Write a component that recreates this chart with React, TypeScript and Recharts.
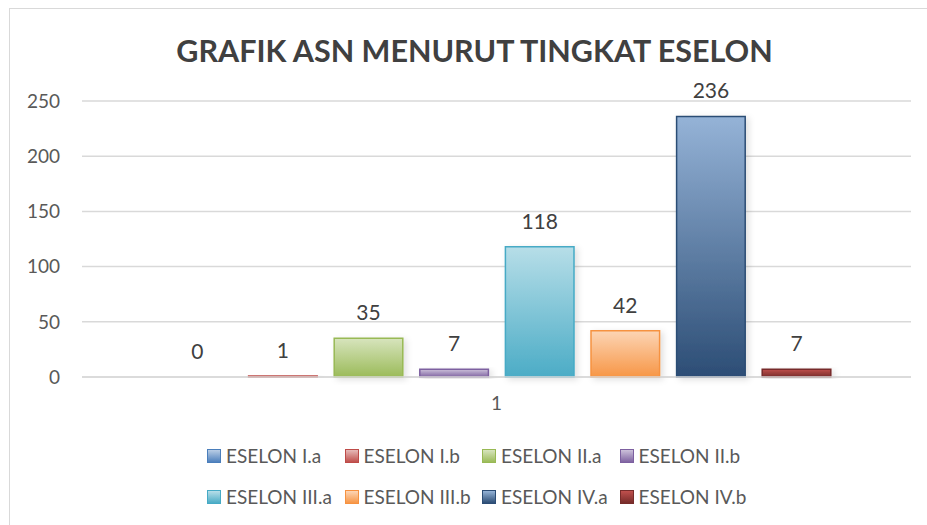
import { BarChart, Bar, XAxis, YAxis, CartesianGrid, LabelList, Rectangle } from "recharts";

const categories = ["1"];
const seriesNames = [
  "ESELON I.a",
  "ESELON I.b",
  "ESELON II.a",
  "ESELON II.b",
  "ESELON III.a",
  "ESELON III.b",
  "ESELON IV.a",
  "ESELON IV.b",
];
const seriesValues = [0, 1, 35, 7, 118, 42, 236, 7];
const yTicks = [0, 50, 100, 150, 200, 250];

// top / bottom / outline of each gradient
const PALETTE = [
  { top: "#B9CDE5", bottom: "#4F81BD", stroke: "#4A7EBB" },
  { top: "#E6B9B8", bottom: "#C0504D", stroke: "#BE4B48" },
  { top: "#D7E4BD", bottom: "#9BBB59", stroke: "#98B954" },
  { top: "#CCC1DA", bottom: "#8064A2", stroke: "#7D60A0" },
  { top: "#B7DEE8", bottom: "#4BACC6", stroke: "#46AAC5" },
  { top: "#FCD5B5", bottom: "#F79646", stroke: "#F69240" },
  { top: "#95B3D7", bottom: "#2C4D75", stroke: "#2C4D75" },
  { top: "#C0504D", bottom: "#772C2A", stroke: "#772C2A" },
];

const FONT = "Lato, 'Open Sans', sans-serif";

const data = categories.map((name) => {
  const row: Record<string, any> = { name };
  seriesNames.forEach((s, i) => {
    row[`s${i}`] = seriesValues[i];
  });
  return row;
});

// value label above each bar (also drawn for zero-height bars)
const renderValue = (props: any) => {
  const { x, y, width, value } = props;
  return (
    <text
      x={x + width / 2}
      y={y - 18}
      fill="#404040"
      fontSize={21}
      textAnchor="middle"
      fontFamily={FONT}
    >
      {value}
    </text>
  );
};

// zero values keep their label but draw no box
const renderBar = (props: any) => {
  if (Math.abs(props.height) < 0.5) return <g />;
  return <Rectangle {...props} filter="url(#barShadow)" />;
};

function ChartLegend() {
  const rows = [seriesNames.slice(0, 4), seriesNames.slice(4)];
  return (
    <div
      style={{
        position: "absolute",
        left: 0,
        top: 435,
        width: 927,
        fontFamily: FONT,
        fontSize: 19,
        color: "#595959",
      }}
    >
      {rows.map((row, r) => (
        <div key={r} style={{ display: "flex", height: 41, alignItems: "center", paddingLeft: 207 }}>
          {row.map((name, j) => {
            const p = PALETTE[r * 4 + j];
            return (
              <div key={name} style={{ width: 137.5, display: "flex", alignItems: "center", whiteSpace: "nowrap" }}>
                <span
                  style={{
                    display: "inline-block",
                    width: 12,
                    height: 12,
                    marginRight: 5,
                    border: `1px solid ${p.stroke}`,
                    background: `linear-gradient(${p.top}, ${p.bottom})`,
                  }}
                />
                {name}
              </div>
            );
          })}
        </div>
      ))}
    </div>
  );
}

export default function App() {
  return (
    <div style={{ position: "absolute", left: 0, top: 0, width: 927, height: 525, background: "#fff", overflow: "hidden" }}>
      <div
        style={{
          position: "absolute",
          left: 9,
          top: 8,
          width: 940,
          height: 540,
          borderLeft: "1.5px solid #D9D9D9",
          borderTop: "1.5px solid #D9D9D9",
        }}
      />
      <div
        style={{
          position: "absolute",
          left: 11,
          top: 32,
          width: 927,
          textAlign: "center",
          fontFamily: FONT,
          fontWeight: 700,
          fontSize: 30.5,
          color: "#404040",
        }}
      >
        GRAFIK ASN MENURUT TINGKAT ESELON
      </div>
      <BarChart
        width={927}
        height={525}
        data={data}
        margin={{ top: 101, right: 16, left: 0, bottom: 103 }}
        barSize={68.6}
        barGap={17}
        style={{ position: "absolute", left: 0, top: 0, fontFamily: FONT }}
      >
        <defs>
          {PALETTE.map((p, i) => (
            <linearGradient key={i} id={`grad${i}`} x1="0" y1="0" x2="0" y2="1">
              <stop offset="0%" stopColor={p.top} />
              <stop offset="100%" stopColor={p.bottom} />
            </linearGradient>
          ))}
          <filter id="barShadow" x="-20%" y="-20%" width="150%" height="140%">
            <feDropShadow dx="3" dy="2" stdDeviation="3" floodColor="#000" floodOpacity="0.12" />
          </filter>
        </defs>
        <CartesianGrid vertical={false} stroke="#D9D9D9" strokeWidth={1.5} />
        <XAxis
          dataKey="name"
          tickLine={false}
          tickSize={0}
          tickMargin={20}
          axisLine={{ stroke: "#D9D9D9", strokeWidth: 1.5 }}
          tick={{ fill: "#595959", fontSize: 19 }}
          height={45}
        />
        <YAxis
          domain={[0, 250]}
          ticks={yTicks}
          width={82}
          tickLine={false}
          tickSize={0}
          tickMargin={22}
          axisLine={false}
          tick={{ fill: "#595959", fontSize: 19 }}
        />
        {seriesNames.map((name, i) => (
          <Bar
            key={name}
            dataKey={`s${i}`}
            name={name}
            fill={`url(#grad${i})`}
            stroke={PALETTE[i].stroke}
            strokeWidth={1.5}
            minPointSize={0.01}
            shape={renderBar}
            isAnimationActive={false}
          >
            <LabelList dataKey={`s${i}`} content={renderValue} />
          </Bar>
        ))}
      </BarChart>
      <ChartLegend />
    </div>
  );
}
